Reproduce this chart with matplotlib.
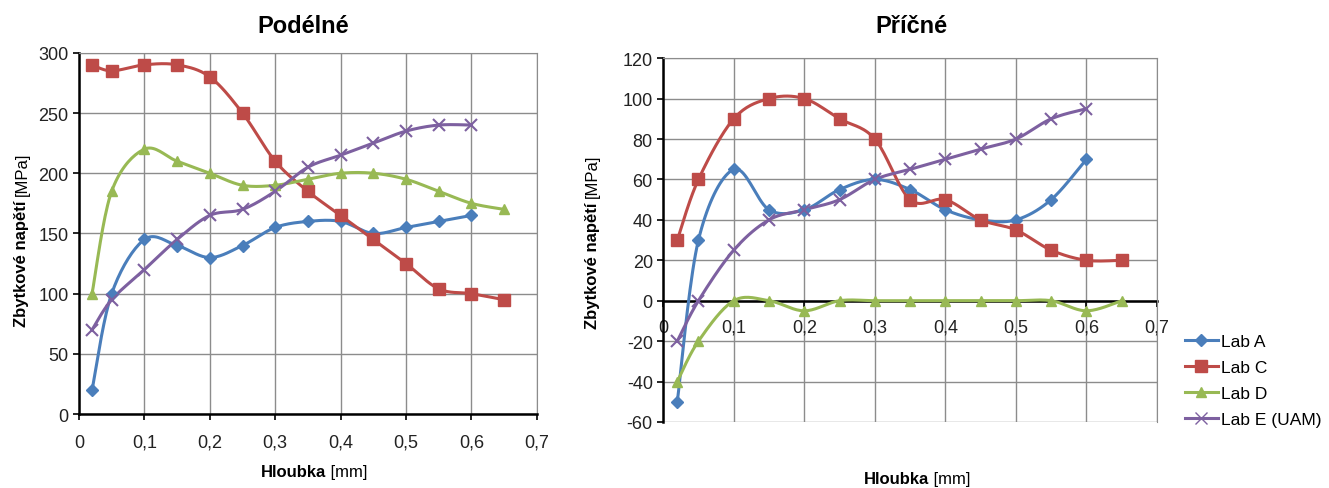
import numpy as np
import matplotlib
matplotlib.use('Agg')
import matplotlib.pyplot as plt
from matplotlib.ticker import FuncFormatter

plt.rcParams['font.family'] = ['Liberation Sans', 'DejaVu Sans']
plt.rcParams['axes.unicode_minus'] = False

depth = [0.02, 0.05, 0.1, 0.15, 0.2, 0.25, 0.3, 0.35, 0.4, 0.45, 0.5, 0.55, 0.6, 0.65]

# Podélné
long_a = [20, 100, 145, 140, 130, 140, 155, 160, 160, 150, 155, 160, 165]
long_c = [290, 285, 290, 290, 280, 250, 210, 185, 165, 145, 125, 104, 100, 95]
long_d = [100, 185, 220, 210, 200, 190, 190, 195, 200, 200, 195, 185, 175, 170]
long_e = [70, 95, 120, 145, 165, 170, 185, 205, 215, 225, 235, 240, 240]

# Příčné
tran_a = [-50, 30, 65, 45, 45, 55, 60, 55, 45, 40, 40, 50, 70]
tran_c = [30, 60, 90, 100, 100, 90, 80, 50, 50, 40, 35, 25, 20, 20]
tran_d = [-40, -20, 0, 0, -5, 0, 0, 0, 0, 0, 0, 0, -5, 0]
tran_e = [-20, 0, 25, 40, 45, 50, 60, 65, 70, 75, 80, 90, 95]

labels = ['Lab A', 'Lab C', 'Lab D', 'Lab E (UAM)']
colors = ['#4A7EBB', '#BE4B48', '#98B954', '#7D60A0']
markers = ['D', 's', '^', 'x']
msizes = [6, 8, 7, 8]


def smooth(x, y, sx, sy, n=20):
    # Excel-like smoothed line (Bezier through points), computed in screen-ish units
    p = np.column_stack([np.asarray(x) * sx, np.asarray(y) * sy])
    out = [p[0]]
    for i in range(len(p) - 1):
        p0 = p[i - 1] if i > 0 else p[i]
        p1, p2 = p[i], p[i + 1]
        p3 = p[i + 2] if i + 2 < len(p) else p[i + 1]
        c1 = p1 + (p2 - p0) / 6
        c2 = p2 - (p3 - p1) / 6
        t = np.linspace(0, 1, n)[1:, None]
        seg = (1 - t) ** 3 * p1 + 3 * (1 - t) ** 2 * t * c1 + 3 * (1 - t) * t ** 2 * c2 + t ** 3 * p2
        out.extend(seg)
    out = np.array(out)
    return out[:, 0] / sx, out[:, 1] / sy


comma = FuncFormatter(lambda v, pos: ('%g' % round(v, 2)).replace('.', ','))

fig = plt.figure(figsize=(13.29, 4.89), dpi=100)
ax1 = fig.add_axes([0.0594, 0.151, 0.3446, 0.739])
ax2 = fig.add_axes([0.499, 0.135, 0.3716, 0.744])


def draw(ax, series, ymin, ymax, step):
    w = ax.get_position().width * 13.29
    h = ax.get_position().height * 4.89
    sx = w / 0.7
    sy = h / (ymax - ymin)
    for vals, lab, c, m, ms in zip(series, labels, colors, markers, msizes):
        xs = depth[:len(vals)]
        lx, ly = smooth(xs, vals, sx, sy)
        ax.plot(lx, ly, color=c, lw=2.2, zorder=3, label=None)
        ax.plot(xs, vals, ls='none', marker=m, color=c, ms=ms, mew=1.5 if m == 'x' else 1, zorder=4)
        ax.plot([], [], color=c, lw=2.2, marker=m, ms=ms, label=lab)
    ax.set_xlim(0, 0.7)
    ax.set_ylim(ymin, ymax)
    ax.set_xticks(np.arange(0, 0.71, 0.1))
    ax.set_yticks(np.arange(ymin, ymax + 1, step))
    ax.xaxis.set_major_formatter(comma)
    ax.grid(True, color='#8c8c8c', lw=1.0)
    ax.set_axisbelow(True)
    for s in ['top', 'right']:
        ax.spines[s].set_color('#8c8c8c')
    ax.spines['left'].set_linewidth(1.8)
    ax.spines['bottom'].set_linewidth(1.8)
    ax.tick_params(labelsize=13, direction='out', length=4, width=1.2, colors='black', labelcolor='#222222')


draw(ax1, [long_a, long_c, long_d, long_e], 0, 300, 50)
draw(ax2, [tran_a, tran_c, tran_d, tran_e], -60, 120, 20)
ax1.tick_params(axis='x', pad=10)
ax2.spines['bottom'].set_position(('data', 0))
ax2.spines['bottom'].set_zorder(2)
ax2.tick_params(axis='x', pad=9)

fig.text(0.228, 0.945, 'Podélné', ha='center', va='center', fontsize=17, fontweight='bold')
fig.text(0.686, 0.945, 'Příčné', ha='center', va='center', fontsize=17, fontweight='bold')

# x labels
for xp, yp in [(326, 473), (929, 480)]:
    fig.text(xp / 1329, 1 - yp / 489, 'Hloubka', ha='right', va='center', fontsize=12, fontweight='bold')
    fig.text(xp / 1329, 1 - yp / 489, ' [mm]', ha='left', va='center', fontsize=12)

# y labels
for xp, yp in [(22, 196), (592, 198)]:
    fig.text(xp / 1329, 1 - yp / 489, 'Zbytkové napětí ', rotation=90, rotation_mode='anchor',
             ha='right', va='center', fontsize=12, fontweight='bold')
    fig.text(xp / 1329, 1 - yp / 489, '[MPa]', rotation=90, rotation_mode='anchor',
             ha='left', va='center', fontsize=12)

leg = ax2.legend(loc='upper left', bbox_to_anchor=(1185 / 1329, 1 - 335 / 489),
                 bbox_transform=fig.transFigure, frameon=False,
                 prop={'size': 12.5}, borderpad=0, borderaxespad=0,
                 handlelength=1.9, handletextpad=0.2, labelspacing=0.62)

fig.savefig('out.png', dpi=100)
